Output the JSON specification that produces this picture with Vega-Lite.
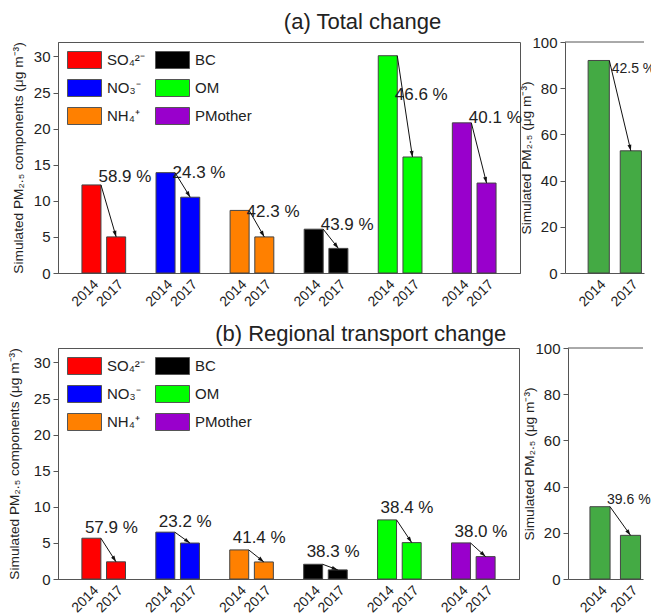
{
  "$schema": "https://vega.github.io/schema/vega-lite/v6.json",
  "padding": {"left": 6, "top": 11, "right": 0, "bottom": 0},
  "background": "white",
  "datasets": {
    "bars": [
      {"p": "a", "comp": "SO₄²⁻", "year": "2014", "value": 12.2},
      {"p": "a", "comp": "SO₄²⁻", "year": "2017", "value": 5.0},
      {"p": "a", "comp": "NO₃⁻", "year": "2014", "value": 13.9},
      {"p": "a", "comp": "NO₃⁻", "year": "2017", "value": 10.5},
      {"p": "a", "comp": "NH₄⁺", "year": "2014", "value": 8.67},
      {"p": "a", "comp": "NH₄⁺", "year": "2017", "value": 5.0},
      {"p": "a", "comp": "BC", "year": "2014", "value": 6.07},
      {"p": "a", "comp": "BC", "year": "2017", "value": 3.41},
      {"p": "a", "comp": "OM", "year": "2014", "value": 30.1},
      {"p": "a", "comp": "OM", "year": "2017", "value": 16.07},
      {"p": "a", "comp": "PMother", "year": "2014", "value": 20.8},
      {"p": "a", "comp": "PMother", "year": "2017", "value": 12.46},
      {"p": "b", "comp": "SO₄²⁻", "year": "2014", "value": 5.65},
      {"p": "b", "comp": "SO₄²⁻", "year": "2017", "value": 2.38},
      {"p": "b", "comp": "NO₃⁻", "year": "2014", "value": 6.49},
      {"p": "b", "comp": "NO₃⁻", "year": "2017", "value": 4.98},
      {"p": "b", "comp": "NH₄⁺", "year": "2014", "value": 4.03},
      {"p": "b", "comp": "NH₄⁺", "year": "2017", "value": 2.36},
      {"p": "b", "comp": "BC", "year": "2014", "value": 2.04},
      {"p": "b", "comp": "BC", "year": "2017", "value": 1.26},
      {"p": "b", "comp": "OM", "year": "2014", "value": 8.19},
      {"p": "b", "comp": "OM", "year": "2017", "value": 5.04},
      {"p": "b", "comp": "PMother", "year": "2014", "value": 5.0},
      {"p": "b", "comp": "PMother", "year": "2017", "value": 3.1}
    ],
    "ann": [
      {"p": "a", "comp": "SO₄²⁻", "pct": "58.9 %", "ly": 12.6},
      {"p": "a", "comp": "NO₃⁻", "pct": "24.3 %", "ly": 13.16},
      {"p": "a", "comp": "NH₄⁺", "pct": "42.3 %", "ly": 7.76},
      {"p": "a", "comp": "BC", "pct": "43.9 %", "ly": 5.96},
      {"p": "a", "comp": "OM", "pct": "46.6 %", "ly": 23.96},
      {"p": "a", "comp": "PMother", "pct": "40.1 %", "ly": 20.78},
      {"p": "b", "comp": "SO₄²⁻", "pct": "57.9 %", "ly": 6.33},
      {"p": "b", "comp": "NO₃⁻", "pct": "23.2 %", "ly": 7.24},
      {"p": "b", "comp": "NH₄⁺", "pct": "41.4 %", "ly": 4.94},
      {"p": "b", "comp": "BC", "pct": "38.3 %", "ly": 3.09},
      {"p": "b", "comp": "OM", "pct": "38.4 %", "ly": 9.1},
      {"p": "b", "comp": "PMother", "pct": "38.0 %", "ly": 5.78}
    ],
    "tot": [
      {"p": "a", "year": "2014", "value": 92.0},
      {"p": "a", "year": "2017", "value": 52.9},
      {"p": "b", "year": "2014", "value": 31.3},
      {"p": "b", "year": "2017", "value": 18.9}
    ],
    "totann": [
      {"p": "a", "pct": "42.5 %", "ly": 86.6},
      {"p": "b", "pct": "39.6 %", "ly": 32.6}
    ]
  },
  "resolve": {"scale": {"color": "independent"}, "legend": {"color": "independent"}},
  "spacing": 13,
  "vconcat": [
    {
      "title": {"text": "(a) Total change", "anchor": "middle", "dx": 29.5, "fontSize": 22, "fontWeight": "normal", "color": "#222", "offset": 1},
      "spacing": 45,
      "bounds": "flush",
      "hconcat": [
        {
          "width": 462, "height": 231,
          "layer": [
            {
              "data": {"name": "bars"},
              "transform": [{"filter": "datum.p === 'a'"}, {"calculate": "datum.comp + '|' + datum.year", "as": "key"}],
              "mark": {"type": "bar", "stroke": "#444", "strokeWidth": 1},
              "encoding": {
                "x": {"field": "key", "type": "nominal", "title": null, "sort": null,
                  "scale": {"domain": ["SO₄²⁻|2014","SO₄²⁻|2017","_1","NO₃⁻|2014","NO₃⁻|2017","_2","NH₄⁺|2014","NH₄⁺|2017","_3","BC|2014","BC|2017","_4","OM|2014","OM|2017","_5","PMother|2014","PMother|2017"], "paddingInner": 0.23, "paddingOuter": 0.97},
                  "axis": {"ticks": false, "labelAngle": -45, "labelFontSize": 14, "labelPadding": 4, "labelOverlap": false, "labelExpr": "indexof(datum.value, '|') >= 0 ? split(datum.value, '|')[1] : ''"}},
                "y": {"field": "value", "type": "quantitative", "title": "Simulated PM₂.₅ components (μg m⁻³)",
                  "scale": {"domain": [0, 32], "nice": false},
                  "axis": {"values": [0, 5, 10, 15, 20, 25, 30], "tickSize": 5, "labelPadding": 3, "titlePadding": 8, "labelOverlap": false}},
                "color": {"field": "comp", "type": "nominal",
                  "scale": {"domain": ["SO₄²⁻","NO₃⁻","NH₄⁺","BC","OM","PMother"], "range": ["#FF0000","#0000FF","#FF8000","#000000","#00FF00","#9900CC"]},
                  "legend": {"orient": "none", "legendX": 9, "legendY": 0.5, "title": null, "columns": 2, "symbolType": "M-1,-0.5H1V0.5H-1Z", "symbolSize": 1156, "symbolStrokeColor": "#555", "symbolStrokeWidth": 1, "symbolOpacity": 1, "labelFontSize": 15, "labelColor": "#222", "labelOffset": 5, "rowPadding": -18, "columnPadding": 8, "padding": 0}}
              }
            },
            {
              "data": {"name": "bars"},
              "transform": [{"filter": "datum.p === 'a'"}, {"pivot": "year", "value": "value", "groupby": ["comp"]},
                {"calculate": "datum.comp + '|2014'", "as": "k14"}, {"calculate": "datum.comp + '|2017'", "as": "k17"},
                {"calculate": "-atan2(15.2, (datum['2014'] - datum['2017']) * 7.22) * 180 / PI", "as": "ang"}],
              "layer": [
                {
                  "mark": {"type": "rule", "color": "#111", "strokeWidth": 1, "xOffset": 9.5},
                  "encoding": {
                    "x": {"field": "k14", "type": "nominal", "title": null},
                    "x2": {"field": "k17"},
                    "y": {"field": "2014", "type": "quantitative", "title": "Simulated PM₂.₅ components (μg m⁻³)",
                      "axis": {"values": [0, 5, 10, 15, 20, 25, 30], "tickSize": 5, "labelPadding": 3, "titlePadding": 8, "labelOverlap": false}},
                    "y2": {"field": "2017"}
                  }
                },
                {
                  "mark": {"type": "point", "shape": "M0,0L-0.32,-1L0.32,-1Z", "filled": true, "color": "#111", "size": 150, "opacity": 1, "strokeWidth": 0},
                  "encoding": {
                    "x": {"field": "k17", "type": "nominal", "title": null},
                    "y": {"field": "2017", "type": "quantitative", "title": "Simulated PM₂.₅ components (μg m⁻³)",
                      "axis": {"values": [0, 5, 10, 15, 20, 25, 30], "tickSize": 5, "labelPadding": 3, "titlePadding": 8, "labelOverlap": false}},
                    "angle": {"field": "ang", "type": "quantitative", "scale": null}
                  }
                }
              ]
            },
            {
              "data": {"name": "ann"},
              "transform": [{"filter": "datum.p === 'a'"}, {"calculate": "datum.comp + '|2014'", "as": "k14"}],
              "mark": {"type": "text", "align": "left", "baseline": "alphabetic", "fontSize": 17, "color": "#222", "xOffset": 7},
              "encoding": {
                "x": {"field": "k14", "type": "nominal", "title": null},
                "y": {"field": "ly", "type": "quantitative", "title": "Simulated PM₂.₅ components (μg m⁻³)",
                  "axis": {"values": [0, 5, 10, 15, 20, 25, 30], "tickSize": 5, "labelPadding": 3, "titlePadding": 8, "labelOverlap": false}},
                "text": {"field": "pct"}
              }
            }
          ]
        },
        {
          "width": 79, "height": 231,
          "view": {"stroke": null},
          "layer": [
            {
              "data": {"name": "tot"},
              "transform": [{"filter": "datum.p === 'a'"}],
              "mark": {"type": "bar", "fill": "#44AA44", "stroke": "#444", "strokeWidth": 1},
              "encoding": {
                "x": {"field": "year", "type": "nominal", "title": null,
                  "scale": {"paddingInner": 0.34, "paddingOuter": 0.4, "align": 0.9},
                  "axis": {"ticks": false, "labelAngle": -45, "labelFontSize": 14, "labelPadding": 4}},
                "y": {"field": "value", "type": "quantitative", "title": "Simulated PM₂.₅ (μg m⁻³)",
                  "scale": {"domain": [0, 100], "nice": false},
                  "axis": {"values": [0, 20, 40, 60, 80, 100], "tickSize": 5, "labelPadding": 3, "titlePadding": -2, "labelOverlap": false}}
              }
            },
            {
              "data": {"values": [{}]},
              "mark": {"type": "rule", "color": "#555", "strokeWidth": 1},
              "encoding": {"y": {"datum": 100}}
            },
            {
              "data": {"name": "tot"},
              "transform": [{"filter": "datum.p === 'a'"}, {"pivot": "year", "value": "value", "groupby": ["p"]},
                {"calculate": "-atan2(21.5, (datum['2014'] - datum['2017']) * 2.31) * 180 / PI", "as": "ang"}],
              "layer": [
                {
                  "mark": {"type": "rule", "color": "#111", "strokeWidth": 1, "xOffset": 10.6},
                  "encoding": {
                    "x": {"datum": "2014"},
                    "x2": {"datum": "2017"},
                    "y": {"field": "2014", "type": "quantitative", "title": "Simulated PM₂.₅ (μg m⁻³)"},
                    "y2": {"field": "2017"}
                  }
                },
                {
                  "mark": {"type": "point", "shape": "M0,0L-0.32,-1L0.32,-1Z", "filled": true, "color": "#111", "size": 150, "opacity": 1, "strokeWidth": 0},
                  "encoding": {
                    "x": {"datum": "2017"},
                    "y": {"field": "2017", "type": "quantitative", "title": "Simulated PM₂.₅ (μg m⁻³)"},
                    "angle": {"field": "ang", "type": "quantitative", "scale": null}
                  }
                }
              ]
            },
            {
              "data": {"name": "totann"},
              "transform": [{"filter": "datum.p === 'a'"}],
              "mark": {"type": "text", "align": "left", "baseline": "alphabetic", "fontSize": 14, "color": "#222", "xOffset": 13},
              "encoding": {
                "x": {"datum": "2014"},
                "y": {"field": "ly", "type": "quantitative", "title": "Simulated PM₂.₅ (μg m⁻³)"},
                "text": {"field": "pct"}
              }
            }
          ]
        }
      ]
    },
    {
      "title": {"text": "(b) Regional transport change", "anchor": "middle", "dx": 32, "fontSize": 22, "fontWeight": "normal", "color": "#222", "offset": -5},
      "spacing": 49,
      "bounds": "flush",
      "hconcat": [
        {
          "width": 461, "height": 231,
          "layer": [
            {
              "data": {"name": "bars"},
              "transform": [{"filter": "datum.p === 'b'"}, {"calculate": "datum.comp + '|' + datum.year", "as": "key"}],
              "mark": {"type": "bar", "stroke": "#444", "strokeWidth": 1},
              "encoding": {
                "x": {"field": "key", "type": "nominal", "title": null, "sort": null,
                  "scale": {"domain": ["SO₄²⁻|2014","SO₄²⁻|2017","_1","NO₃⁻|2014","NO₃⁻|2017","_2","NH₄⁺|2014","NH₄⁺|2017","_3","BC|2014","BC|2017","_4","OM|2014","OM|2017","_5","PMother|2014","PMother|2017"], "paddingInner": 0.23, "paddingOuter": 0.97},
                  "axis": {"ticks": false, "labelAngle": -45, "labelFontSize": 14, "labelPadding": 4, "labelOverlap": false, "labelExpr": "indexof(datum.value, '|') >= 0 ? split(datum.value, '|')[1] : ''"}},
                "y": {"field": "value", "type": "quantitative", "title": "Simulated PM₂.₅ components (μg m⁻³)",
                  "scale": {"domain": [0, 32], "nice": false},
                  "axis": {"values": [0, 5, 10, 15, 20, 25, 30], "tickSize": 5, "labelPadding": 3, "titlePadding": 12, "labelOverlap": false}},
                "color": {"field": "comp", "type": "nominal",
                  "scale": {"domain": ["SO₄²⁻","NO₃⁻","NH₄⁺","BC","OM","PMother"], "range": ["#FF0000","#0000FF","#FF8000","#000000","#00FF00","#9900CC"]},
                  "legend": {"orient": "none", "legendX": 9, "legendY": 0.5, "title": null, "columns": 2, "symbolType": "M-1,-0.5H1V0.5H-1Z", "symbolSize": 1156, "symbolStrokeColor": "#555", "symbolStrokeWidth": 1, "symbolOpacity": 1, "labelFontSize": 15, "labelColor": "#222", "labelOffset": 5, "rowPadding": -18, "columnPadding": 8, "padding": 0}}
              }
            },
            {
              "data": {"name": "bars"},
              "transform": [{"filter": "datum.p === 'b'"}, {"pivot": "year", "value": "value", "groupby": ["comp"]},
                {"calculate": "datum.comp + '|2014'", "as": "k14"}, {"calculate": "datum.comp + '|2017'", "as": "k17"},
                {"calculate": "-atan2(15.2, (datum['2014'] - datum['2017']) * 7.22) * 180 / PI", "as": "ang"}],
              "layer": [
                {
                  "mark": {"type": "rule", "color": "#111", "strokeWidth": 1, "xOffset": 9.5},
                  "encoding": {
                    "x": {"field": "k14", "type": "nominal", "title": null},
                    "x2": {"field": "k17"},
                    "y": {"field": "2014", "type": "quantitative", "title": "Simulated PM₂.₅ components (μg m⁻³)",
                      "axis": {"values": [0, 5, 10, 15, 20, 25, 30], "tickSize": 5, "labelPadding": 3, "titlePadding": 12, "labelOverlap": false}},
                    "y2": {"field": "2017"}
                  }
                },
                {
                  "mark": {"type": "point", "shape": "M0,0L-0.32,-1L0.32,-1Z", "filled": true, "color": "#111", "size": 150, "opacity": 1, "strokeWidth": 0},
                  "encoding": {
                    "x": {"field": "k17", "type": "nominal", "title": null},
                    "y": {"field": "2017", "type": "quantitative", "title": "Simulated PM₂.₅ components (μg m⁻³)",
                      "axis": {"values": [0, 5, 10, 15, 20, 25, 30], "tickSize": 5, "labelPadding": 3, "titlePadding": 12, "labelOverlap": false}},
                    "angle": {"field": "ang", "type": "quantitative", "scale": null}
                  }
                }
              ]
            },
            {
              "data": {"name": "ann"},
              "transform": [{"filter": "datum.p === 'b'"}, {"calculate": "datum.comp + '|2014'", "as": "k14"}],
              "mark": {"type": "text", "align": "left", "baseline": "alphabetic", "fontSize": 17, "color": "#222", "xOffset": -6.5},
              "encoding": {
                "x": {"field": "k14", "type": "nominal", "title": null},
                "y": {"field": "ly", "type": "quantitative", "title": "Simulated PM₂.₅ components (μg m⁻³)",
                  "axis": {"values": [0, 5, 10, 15, 20, 25, 30], "tickSize": 5, "labelPadding": 3, "titlePadding": 12, "labelOverlap": false}},
                "text": {"field": "pct"}
              }
            }
          ]
        },
        {
          "width": 75, "height": 231,
          "view": {"stroke": null},
          "layer": [
            {
              "data": {"name": "tot"},
              "transform": [{"filter": "datum.p === 'b'"}],
              "mark": {"type": "bar", "fill": "#44AA44", "stroke": "#444", "strokeWidth": 1},
              "encoding": {
                "x": {"field": "year", "type": "nominal", "title": null,
                  "scale": {"paddingInner": 0.34, "paddingOuter": 0.4, "align": 0.9},
                  "axis": {"ticks": false, "labelAngle": -45, "labelFontSize": 14, "labelPadding": 4}},
                "y": {"field": "value", "type": "quantitative", "title": "Simulated PM₂.₅ (μg m⁻³)",
                  "scale": {"domain": [0, 100], "nice": false},
                  "axis": {"values": [0, 20, 40, 60, 80, 100], "tickSize": 5, "labelPadding": 3, "titlePadding": -2, "labelOverlap": false}}
              }
            },
            {
              "data": {"values": [{}]},
              "mark": {"type": "rule", "color": "#555", "strokeWidth": 1},
              "encoding": {"y": {"datum": 100}}
            },
            {
              "data": {"name": "tot"},
              "transform": [{"filter": "datum.p === 'b'"}, {"pivot": "year", "value": "value", "groupby": ["p"]},
                {"calculate": "-atan2(20.5, (datum['2014'] - datum['2017']) * 2.31) * 180 / PI", "as": "ang"}],
              "layer": [
                {
                  "mark": {"type": "rule", "color": "#111", "strokeWidth": 1, "xOffset": 10},
                  "encoding": {
                    "x": {"datum": "2014"},
                    "x2": {"datum": "2017"},
                    "y": {"field": "2014", "type": "quantitative", "title": "Simulated PM₂.₅ (μg m⁻³)"},
                    "y2": {"field": "2017"}
                  }
                },
                {
                  "mark": {"type": "point", "shape": "M0,0L-0.32,-1L0.32,-1Z", "filled": true, "color": "#111", "size": 150, "opacity": 1, "strokeWidth": 0},
                  "encoding": {
                    "x": {"datum": "2017"},
                    "y": {"field": "2017", "type": "quantitative", "title": "Simulated PM₂.₅ (μg m⁻³)"},
                    "angle": {"field": "ang", "type": "quantitative", "scale": null}
                  }
                }
              ]
            },
            {
              "data": {"name": "totann"},
              "transform": [{"filter": "datum.p === 'b'"}],
              "mark": {"type": "text", "align": "left", "baseline": "alphabetic", "fontSize": 14, "color": "#222", "xOffset": 7},
              "encoding": {
                "x": {"datum": "2014"},
                "y": {"field": "ly", "type": "quantitative", "title": "Simulated PM₂.₅ (μg m⁻³)"},
                "text": {"field": "pct"}
              }
            }
          ]
        }
      ]
    }
  ],
  "config": {
    "font": "Liberation Sans",
    "view": {"stroke": "#555", "strokeWidth": 1},
    "axis": {"domainColor": "#555", "tickColor": "#555", "labelColor": "#222", "titleColor": "#222", "grid": false, "labelFontSize": 15, "titleFontSize": 13.7, "titleFontWeight": "normal"},
    "title": {"font": "Liberation Sans"}
  }
}
